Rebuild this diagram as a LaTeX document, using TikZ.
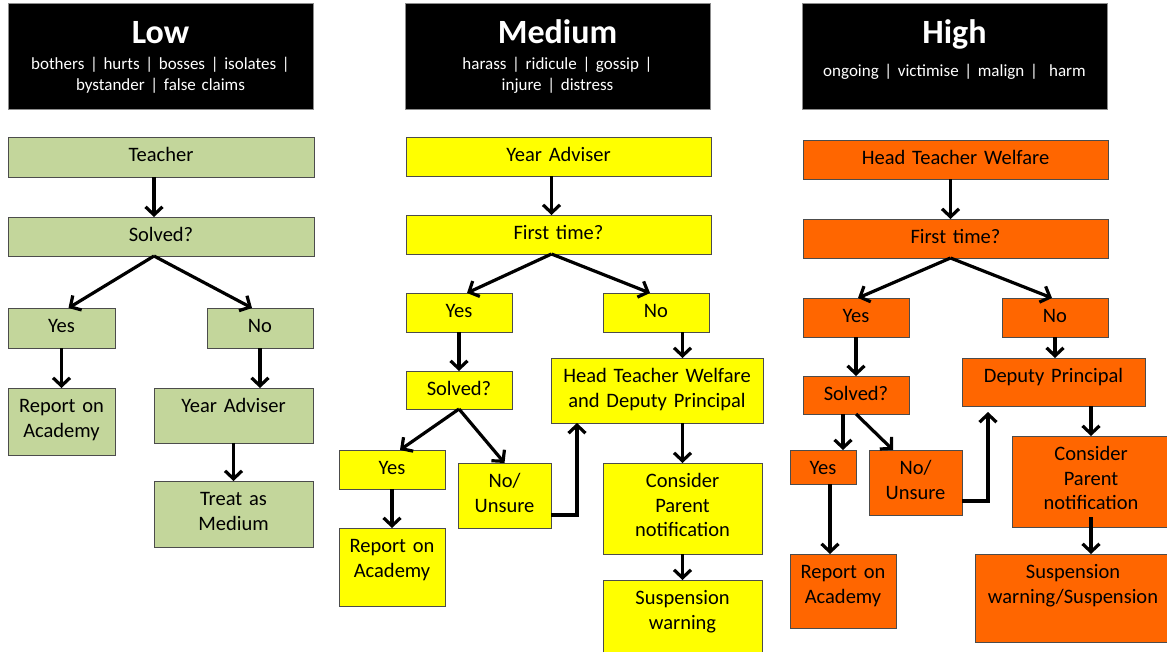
\documentclass[tikz,border=0pt]{standalone}
\usepackage{fontspec}
\setmainfont{Carlito}
\usetikzlibrary{arrows.meta}
\definecolor{lowgreen}{HTML}{C3D69B}
\definecolor{medyellow}{HTML}{FFFF00}
\definecolor{highorange}{HTML}{FF6600}
\newcommand{\flowcell}[7]{%
  \pgfmathsetmacro{\cellw}{#5-#3-4}%
  \pgfmathsetmacro{\celld}{#6-#4-24.5}%
  \node[#1, text width=\cellw pt, text depth=\celld pt, anchor=north west] (#2) at (#3,#4) {#7};}

\begin{document}
\begin{tikzpicture}[x=1pt, y=-1pt,
    cellbox/.style={draw=black!70, line width=0.8pt, inner xsep=2pt, inner ysep=0pt,
      outer sep=0pt, align=center, text height=24.5pt, font=\fontsize{20.5}{24.5}\selectfont},
    lowcell/.style={cellbox, fill=lowgreen},
    medcell/.style={cellbox, fill=medyellow},
    highcell/.style={cellbox, fill=highorange},
    hdrbox/.style={draw=black!45, line width=0.8pt, fill=black, text=white, inner sep=0pt,
      outer sep=0pt, minimum width=305pt, text height=40pt, text depth=66pt, anchor=north west,
      font=\fontsize{34}{36}\selectfont\bfseries},
    subtxt/.style={text=white, align=center, inner sep=0pt, text width=300pt, anchor=base,
      font=\fontsize{17}{21}\selectfont},
    arr/.style={line width=3.2pt, -{Straight Barb[length=8pt,width=17pt]}}]
    \useasboundingbox (0,0) rectangle (1167,651);
    \fill[white] (0,0) rectangle (1167,651);
    \clip (0,0) rectangle (1167,651);

    % headers
    \node[hdrbox] (lowhdr) at (8,3) {Low};
    \node[hdrbox] (medhdr) at (405,3) {Medium};
    \node[hdrbox] (highhdr) at (802,3) {High};
    \node[subtxt] (lowsub) at (160.5,69) {bothers | hurts | bosses | isolates |\\bystander | false claims};
    \node[subtxt] (medsub) at (557.5,69) {harass | ridicule | gossip |\\injure | distress};
    \node[subtxt] (highsub) at (954.5,76) {ongoing | victimise | malign | \ harm};

    % low
    \flowcell{lowcell}{lteach}{8}{137}{314}{177}{Teacher}
    \flowcell{lowcell}{lsolv}{8}{217}{314}{256}{Solved?}
    \flowcell{lowcell}{lyes}{8}{308}{115}{348}{Yes}
    \flowcell{lowcell}{lno}{207}{308}{313}{348}{No}
    \flowcell{lowcell}{lrep}{8}{388}{115}{455}{Report on\\Academy}
    \flowcell{lowcell}{lya}{154}{388}{313}{443}{Year Adviser}
    \flowcell{lowcell}{ltreat}{154}{481}{313}{547}{Treat as\\Medium}

    % medium
    \flowcell{medcell}{mya}{406}{137}{711}{176}{Year Adviser}
    \flowcell{medcell}{mfirst}{406}{215}{711}{254}{First time?}
    \flowcell{medcell}{myes}{406}{293}{512}{332}{Yes}
    \flowcell{medcell}{mno}{603}{293}{709}{332}{No}
    \flowcell{medcell}{msolv}{406}{371}{512}{409}{Solved?}
    \flowcell{medcell}{mhtw}{551}{358}{763}{423}{Head Teacher Welfare\\and Deputy Principal}
    \flowcell{medcell}{myes2}{339}{450}{445}{489}{Yes}
    \flowcell{medcell}{munsure}{458}{463}{551}{528}{No/\\Unsure}
    \flowcell{medcell}{mrep}{339}{528}{445}{606}{Report on\\Academy}
    \flowcell{medcell}{mcons}{603}{463}{762}{554}{Consider\\Parent\\notification}
    \flowcell{medcell}{msusp}{603}{580}{762}{670}{Suspension\\warning}

    % high
    \flowcell{highcell}{hhtw}{803}{140}{1108}{179}{Head Teacher Welfare}
    \flowcell{highcell}{hfirst}{803}{219}{1108}{258}{First time?}
    \flowcell{highcell}{hyes}{803}{298}{909}{337}{Yes}
    \flowcell{highcell}{hno}{1002}{298}{1108}{337}{No}
    \flowcell{highcell}{hsolv}{803}{376}{909}{414}{Solved?}
    \flowcell{highcell}{hdep}{962}{358}{1145}{406}{Deputy Principal}
    \flowcell{highcell}{hyes2}{790}{450}{856}{484}{Yes}
    \flowcell{highcell}{hunsure}{869}{450}{962}{515}{No/\\Unsure}
    \flowcell{highcell}{hrep}{790}{554}{896}{628}{Report on\\Academy}
    \flowcell{highcell}{hcons}{1012}{436}{1170}{527}{Consider\\Parent\\notification}
    \flowcell{highcell}{hsusp}{975}{554}{1171}{642}{Suspension\\warning/Suspension}

    % low arrows
    \draw[arr] ([xshift=-7pt]lteach.south) -- ([xshift=-7pt]lsolv.north);
    \draw[arr] ([xshift=-7pt]lsolv.south) -- ([xshift=7pt]lyes.north);
    \draw[arr] ([xshift=-7pt]lsolv.south) -- ([xshift=-8pt]lno.north);
    \draw[arr] (lyes.south) -- (lrep.north);
    \draw[arr] (lno.south) -- (lno.south |- lya.north);
    \draw[arr] (lya.south) -- (ltreat.north);

    % medium arrows
    \draw[arr] ([xshift=-7pt]mya.south) -- ([xshift=-7pt]mfirst.north);
    \draw[arr] ([xshift=-7pt]mfirst.south) -- ([xshift=8pt]myes.north);
    \draw[arr] ([xshift=-7pt]mfirst.south) -- ([xshift=-6pt]mno.north);
    \draw[arr] (myes.south) -- (msolv.north);
    \draw[arr] (mno.south -| mcons.north) -- (mhtw.north -| mcons.north);
    \draw[arr] (msolv.south) -- ([xshift=8pt]myes2.north);
    \draw[arr] (msolv.south) -- (munsure.north);
    \draw[arr] (myes2.south) -- (mrep.north);
    \draw[arr] ([yshift=-19.5pt]munsure.east) -| ([xshift=26pt]mhtw.south west);
    \draw[arr] (mhtw.south -| mcons.north) -- (mcons.north);
    \draw[arr] (mcons.south) -- (msusp.north);

    % high arrows
    \draw[arr] ([xshift=-5pt]hhtw.south) -- ([xshift=-5pt]hfirst.north);
    \draw[arr] ([xshift=-5pt]hfirst.south) -- ([xshift=2pt]hyes.north);
    \draw[arr] ([xshift=-5pt]hfirst.south) -- ([xshift=-3pt]hno.north);
    \draw[arr] (hyes.south) -- (hsolv.north);
    \draw[arr] (hno.south) -- (hno.south |- hdep.north);
    \draw[arr] ([xshift=-13pt]hsolv.south) -- ([xshift=-13pt]hsolv.south |- hyes2.north);
    \draw[arr] (hsolv.south) -- ([xshift=24pt]hunsure.north west);
    \draw[arr] ([xshift=7pt]hyes2.south) -- ([xshift=7pt]hyes2.south |- hrep.north);
    \draw[arr] ([yshift=-18.5pt]hunsure.east) -| ([xshift=26pt,yshift=-6pt]hdep.south west);
    \draw[arr] (hdep.south -| hcons.north) -- (hcons.north);
    \draw[arr] ([yshift=10pt]hcons.south) -- (hcons.south |- hsusp.north);
\end{tikzpicture}
\end{document}
